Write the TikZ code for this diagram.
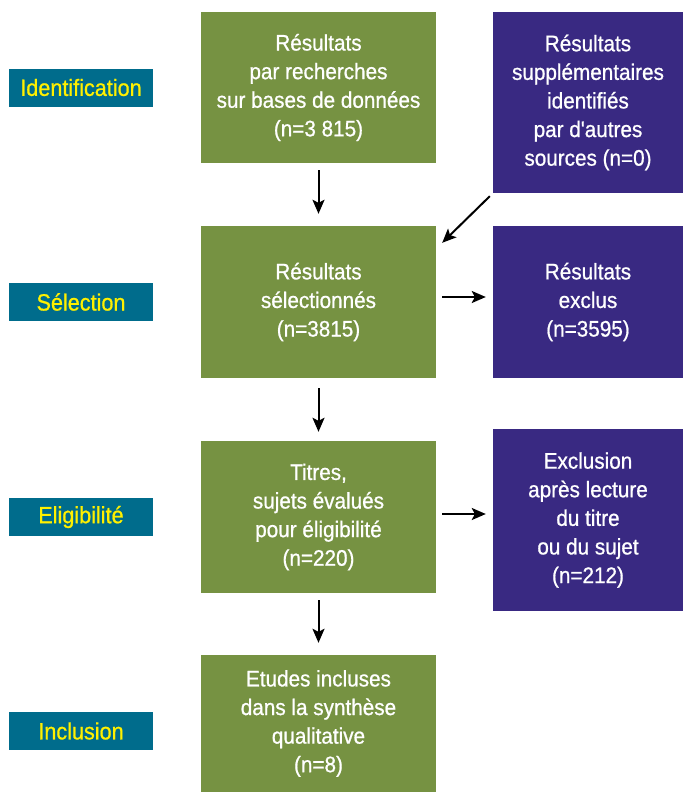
\documentclass[tikz,border=0pt]{standalone}
\usepackage{fontspec}
\newfontfamily\condfont[FakeStretch=0.92,FakeBold=0.8]{Liberation Sans}
\usepackage{tikz}
\usetikzlibrary{arrows.meta,calc}

\definecolor{vert}{RGB}{118,146,66}
\definecolor{violet}{RGB}{57,41,130}
\definecolor{bleu}{RGB}{0,108,140}
\definecolor{jaune}{RGB}{255,240,0}

\begin{document}
\begin{tikzpicture}[x=1pt,y=-1pt,
    box/.style={inner sep=0pt,align=center,text=white,
      font=\condfont\fontsize{22.5}{28.6}\selectfont},
    gbox/.style={box,fill=vert,minimum width=235pt},
    pbox/.style={box,fill=violet,minimum width=190pt},
    etape/.style={fill=bleu,text=jaune,minimum width=144pt,minimum height=38pt,
      inner sep=0pt,font=\condfont\fontsize{23.5}{26}\selectfont},
    arr/.style={line width=2pt,-{Stealth[length=14pt,width=12pt,inset=3pt]}}]
      \useasboundingbox (0,0) rectangle (688,801);
      % etapes
      \node[etape] (ident) at (81,87.5) {Identification};
      \node[etape] (selec) at (81,302) {Sélection};
      \node[etape] (eligi) at (81,517) {Eligibilité};
      \node[etape] (inclu) at (81,731) {Inclusion};
      % colonne principale
      \node[gbox,minimum height=151pt] (bases) at (318.5,87.5)
        {Résultats\\par recherches\\sur bases de données\\(n=3 815)};
      \node[gbox,minimum height=152pt] (selres) at (318.5,302)
        {Résultats\\sélectionnés\\(n=3815)};
      \node[gbox,minimum height=152pt] (titres) at (318.5,517)
        {Titres,\\sujets évalués\\pour éligibilité\\(n=220)};
      \node[gbox,minimum height=137pt] (etudes) at (318.5,723.5)
        {Etudes incluses\\dans la synthèse\\qualitative\\(n=8)};
      % colonne de droite
      \node[pbox,minimum height=181pt] (autres) at (588,102.5)
        {Résultats\\supplémentaires\\identifiés\\par d'autres\\sources (n=0)};
      \node[pbox,minimum height=152pt] (exclus) at (588,302)
        {Résultats\\exclus\\(n=3595)};
      \node[pbox,minimum height=182pt] (lecture) at (588,520)
        {Exclusion\\après lecture\\du titre\\ou du sujet\\(n=212)};
      % fleches
      \draw[arr,shorten <=7pt,shorten >=12pt] (bases) -- (selres);
      \draw[arr,shorten <=10pt,shorten >=9pt] (selres) -- (titres);
      \draw[arr,shorten <=7pt,shorten >=12pt] (titres) -- (etudes);
      \draw[arr] ($(autres.south west)+(-3,3)$) -- ($(selres.north east)+(6,17)$);
      \draw[arr,shorten <=6pt,shorten >=7pt] ([yshift=5pt]selres.east) -- ([yshift=5pt]exclus.west);
      \draw[arr,shorten <=6pt,shorten >=7pt] ([yshift=3pt]titres.east) -- ([yshift=6pt]lecture.west);
    \end{tikzpicture}
\end{document}
